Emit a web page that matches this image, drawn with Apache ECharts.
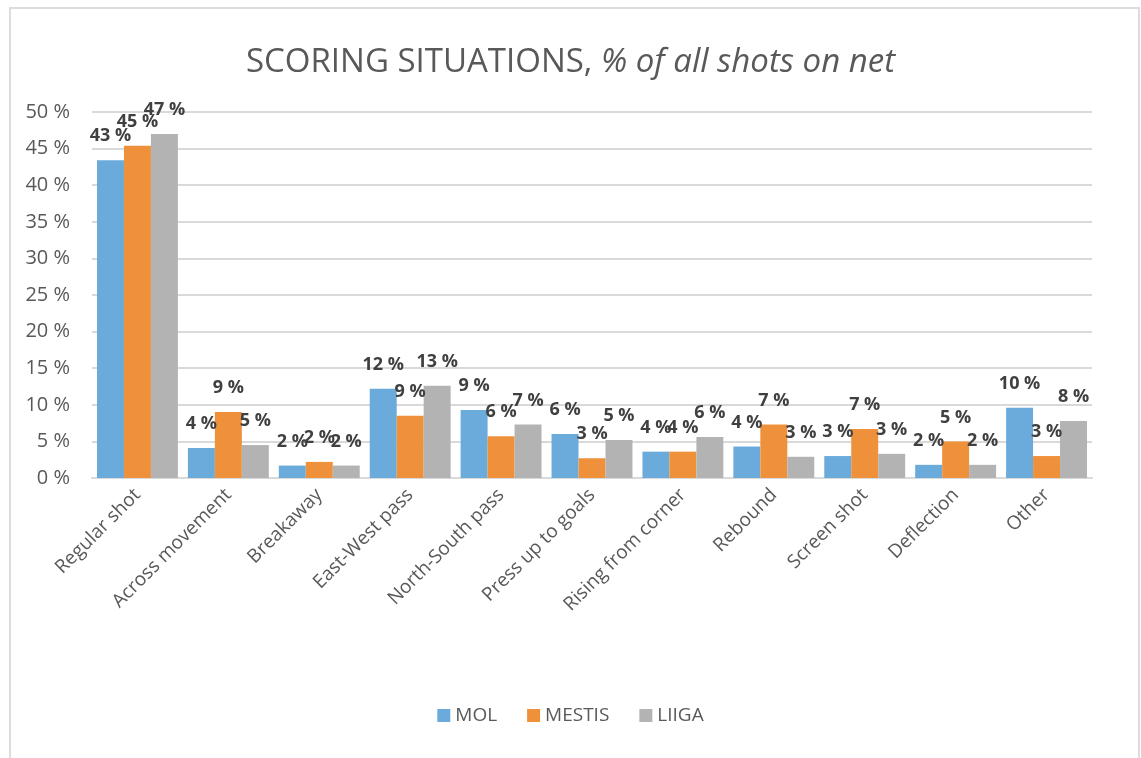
<!DOCTYPE html>
<html>
<head>
<meta charset="utf-8">
<script src="https://cdn.jsdelivr.net/npm/echarts@6/dist/echarts.min.js"></script>
<style>
  html, body { margin: 0; padding: 0; background: #fff; overflow: hidden; }
  #frame { position: absolute; left: 9px; top: 7px; width: 1131px; height: 780px; border: 2px solid #dcdcdc; box-sizing: border-box; }
  #main { position: absolute; left: 0; top: 0; width: 1141px; height: 758px; }
</style>
</head>
<body>
<div id="frame"></div>
<div id="main"></div>
<script>
// scoring situations, % of all shots on net
const categories = ["Regular shot", "Across movement", "Breakaway", "East-West pass", "North-South pass",
  "Press up to goals", "Rising from corner", "Rebound", "Screen shot", "Deflection", "Other"];
const mol = [43.4, 4.1, 1.7, 12.2, 9.3, 6.0, 3.6, 4.3, 3.0, 1.8, 9.6];
const mestis = [45.4, 9.0, 2.2, 8.5, 5.7, 2.7, 3.6, 7.3, 6.7, 5.0, 3.0];
const liiga = [47.0, 4.5, 1.7, 12.6, 7.3, 5.2, 5.6, 2.9, 3.3, 1.8, 7.8];
const yTicks = [0, 5, 10, 15, 20, 25, 30, 35, 40, 45, 50];

const font = "'Open Sans', 'Liberation Sans', sans-serif";
const textGray = "#595959";

let myChart = echarts.init(document.getElementById("main"));

function barSeries(name, data, color) {
  return {
    name: name,
    type: "bar",
    data: data,
    barGap: "0%",
    barCategoryGap: "11%",
    itemStyle: { color: color },
    label: {
      show: true,
      position: "top",
      distance: 15,
      formatter: (p) => Math.round(p.value) + " %",
      fontFamily: font,
      fontSize: 18,
      fontWeight: "bold",
      color: "#404040",
    },
  };
}

myChart.setOption({
  animation: false,
  title: {
    text: "{n|SCORING SITUATIONS, }{i|% of all shots on net}",
    left: "center",
    top: 41,
    textStyle: {
      rich: {
        n: { fontFamily: font, fontSize: 33, fontWeight: "normal", color: textGray },
        i: { fontFamily: font, fontSize: 33, fontWeight: "normal", color: textGray, fontStyle: "italic" },
      },
    },
  },
  legend: {
    data: ["MOL", "MESTIS", "LIIGA"],
    bottom: 28,
    left: "center",
    itemWidth: 13,
    itemHeight: 13,
    itemGap: 30,
    icon: "rect",
    textStyle: { fontFamily: font, fontSize: 19, color: textGray },
  },
  grid: {
    left: 92,
    right: 49,
    top: 112,
    bottom: 280,
  },
  xAxis: {
    type: "category",
    data: categories,
    axisTick: { show: false },
    axisLine: { lineStyle: { color: "#d9d9d9", width: 2 } },
    axisLabel: {
      rotate: 45,
      interval: 0,
      margin: 14,
      fontFamily: font,
      fontSize: 19,
      color: textGray,
    },
  },
  yAxis: {
    type: "value",
    min: yTicks[0],
    max: yTicks[yTicks.length - 1],
    interval: 5,
    axisLine: { show: false },
    axisTick: { show: false },
    splitLine: { lineStyle: { color: "#d9d9d9", width: 2 } },
    axisLabel: {
      formatter: (v) => v + " %",
      margin: 22,
      fontFamily: font,
      fontSize: 20,
      color: textGray,
    },
  },
  series: [
    barSeries("MOL", mol, "#6aabdb"),
    barSeries("MESTIS", mestis, "#ef913b"),
    barSeries("LIIGA", liiga, "#b3b3b3"),
  ],
});
</script>
</body>
</html>
